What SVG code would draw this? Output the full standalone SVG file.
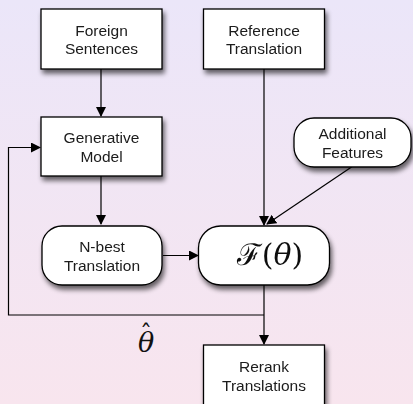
<svg xmlns="http://www.w3.org/2000/svg" width="413" height="404" viewBox="0 0 413 404">
  <defs>
    <linearGradient id="bg" x1="0" y1="0" x2="0" y2="1">
      <stop offset="0" stop-color="#ebe6f9"/>
      <stop offset="1" stop-color="#f8e5ee"/>
    </linearGradient>
    <filter id="shadow" x="-20%" y="-20%" width="150%" height="160%">
      <feGaussianBlur in="SourceAlpha" stdDeviation="2.5"/>
      <feOffset dx="2" dy="4" result="b"/>
      <feComponentTransfer><feFuncA type="linear" slope="0.6"/></feComponentTransfer>
      <feMerge><feMergeNode/><feMergeNode in="SourceGraphic"/></feMerge>
    </filter>
    <marker id="arrow" markerWidth="10" markerHeight="10" refX="9" refY="5" orient="auto" markerUnits="userSpaceOnUse">
      <path d="M0,0 L10,5 L0,10 Z" fill="#000"/>
    </marker>
  </defs>
  <style>
    .box { fill: #fff; stroke: #000; stroke-width: 1.3; }
    .lbl { font-family: "Liberation Sans", Arial, sans-serif; font-size: 15.5px; fill: #1a1a1a; text-anchor: middle; }
    .math { font-family: "DejaVu Serif", "Liberation Serif", serif; fill: #111; }
    .wire { fill: none; stroke: #000; stroke-width: 1.2; }
  </style>

  <rect width="413" height="404" fill="url(#bg)"/>

  <g id="connectors">
    <path class="wire" d="M101,69 V116" marker-end="url(#arrow)"/>
    <path class="wire" d="M101,176 V224" marker-end="url(#arrow)"/>
    <path class="wire" d="M163,255.5 H198" marker-end="url(#arrow)"/>
    <path class="wire" d="M264,69 V225" marker-end="url(#arrow)"/>
    <path class="wire" d="M353,166 L267,224" marker-end="url(#arrow)"/>
    <path class="wire" d="M264,285 V344" marker-end="url(#arrow)"/>
    <path class="wire" d="M264,315 H8.5 V147.5 H40" marker-end="url(#arrow)"/>
  </g>

  <g id="foreign-sentences" filter="url(#shadow)">
    <rect class="box" x="41" y="9" width="121" height="60"/>
    <text class="lbl" x="101.5" y="35.5">Foreign</text>
    <text class="lbl" x="101.5" y="54">Sentences</text>
  </g>

  <g id="reference-translation" filter="url(#shadow)">
    <rect class="box" x="203.5" y="9" width="121" height="60"/>
    <text class="lbl" x="264" y="35.5">Reference</text>
    <text class="lbl" x="264" y="54">Translation</text>
  </g>

  <g id="generative-model" filter="url(#shadow)">
    <rect class="box" x="41" y="117" width="121" height="59"/>
    <text class="lbl" x="101.5" y="143">Generative</text>
    <text class="lbl" x="101.5" y="161.5">Model</text>
  </g>

  <g id="additional-features" filter="url(#shadow)">
    <rect class="box" x="294" y="118" width="117" height="49" rx="20" ry="20"/>
    <text class="lbl" x="352.5" y="139">Additional</text>
    <text class="lbl" x="352.5" y="157.5">Features</text>
  </g>

  <g id="n-best-translation" filter="url(#shadow)">
    <rect class="box" x="42" y="226" width="120" height="59" rx="20" ry="20"/>
    <text class="lbl" x="102" y="252">N-best</text>
    <text class="lbl" x="102" y="270.5">Translation</text>
  </g>

  <g id="objective" filter="url(#shadow)">
    <rect class="box" x="198.5" y="226" width="131" height="59" rx="22" ry="22"/>
    <text class="math" x="270" y="265" font-size="30" text-anchor="middle">ℱ(<tspan font-style="italic">θ</tspan>)</text>
  </g>

  <g id="rerank-translations" filter="url(#shadow)">
    <rect class="box" x="203.5" y="345" width="121" height="66"/>
    <text class="lbl" x="264" y="372">Rerank</text>
    <text class="lbl" x="264" y="390.5">Translations</text>
  </g>

  <g id="theta-hat">
    <text class="math" x="138" y="352" font-size="27" font-style="italic">θ<tspan x="140" y="342" font-size="24" font-style="normal">ˆ</tspan></text>
  </g>
</svg>
